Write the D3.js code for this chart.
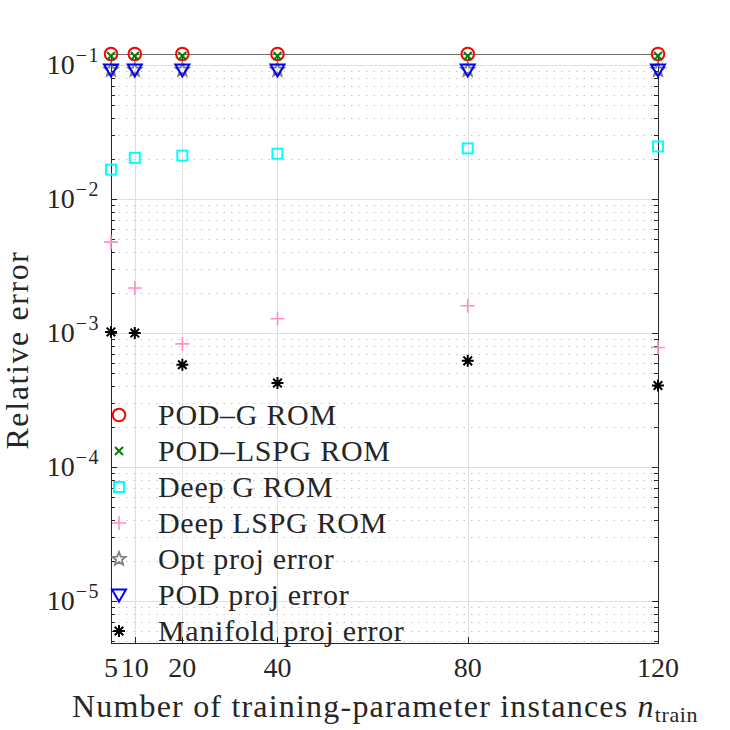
<!DOCTYPE html>
<html><head><meta charset="utf-8">
<script src="https://cdn.jsdelivr.net/npm/d3@7"></script>
<style>
body{margin:0;background:#fff}
svg{display:block}
text{font-family:"Liberation Serif","DejaVu Serif",serif;fill:#262626}
</style>
</head><body>
<script>
// ---- data ----
const nTrain = [5, 10, 20, 40, 80, 120];
const xTickLabels = ["5", "10", "20", "40", "80", "120"];
const yTickExponents = [-5, -4, -3, -2, -1];
const seriesNames = ["POD–G ROM", "POD–LSPG ROM", "Deep G ROM", "Deep LSPG ROM", "Opt proj error", "POD proj error", "Manifold proj error"];
const podG        = [0.121, 0.121, 0.121, 0.121, 0.121, 0.121];
const podLSPG     = [0.117, 0.117, 0.117, 0.117, 0.117, 0.117];
const deepG       = [0.0166, 0.0203, 0.0211, 0.0218, 0.0239, 0.0247];
const deepLSPG    = [0.00477, 0.00217, 0.00083, 0.00128, 0.0016, 0.00078];
const optProj     = [0.092, 0.092, 0.092, 0.092, 0.092, 0.092];
const podProj     = [0.092, 0.092, 0.092, 0.092, 0.092, 0.092];
const manifoldProj= [0.00102, 0.00100, 0.00058, 0.000423, 0.00062, 0.000406];

const W = 730, H = 730;
const L = 111, R = 658, T = 54, B = 643;
const x = d3.scaleLinear().domain([5, 120]).range([L, R]);
const y = d3.scaleLog().domain([4.86e-6, 0.121]).range([B, T]);

const svg = d3.select("body").append("svg").attr("width", W).attr("height", H);

// ---- grid ----
const minor = [];
for (let k = -6; k <= -1; k++) for (let j = 2; j <= 9; j++) {
  const v = j * Math.pow(10, k);
  if (v > y.domain()[0] && v < y.domain()[1]) minor.push(v);
}
const major = yTickExponents.map(e => Math.pow(10, e));
const g = svg.append("g");
g.selectAll(".mg").data(minor).join("line")
  .attr("x1", L).attr("x2", R).attr("y1", d => Math.round(y(d)) + 0.5).attr("y2", d => Math.round(y(d)) + 0.5)
  .attr("stroke", "#c4c4c4").attr("stroke-width", 1).attr("stroke-dasharray", "1.5,6");
g.selectAll(".yg").data(major).join("line")
  .attr("x1", L).attr("x2", R).attr("y1", d => Math.round(y(d)) + 0.5).attr("y2", d => Math.round(y(d)) + 0.5)
  .attr("stroke", "#dedede").attr("stroke-width", 1);
g.selectAll(".xg").data(nTrain).join("line")
  .attr("x1", d => Math.round(x(d)) + 0.5).attr("x2", d => Math.round(x(d)) + 0.5).attr("y1", T).attr("y2", B)
  .attr("stroke", "#dedede").attr("stroke-width", 1);

// ---- axes box & ticks ----
const ax = svg.append("g").attr("stroke", "#262626").attr("stroke-width", 1);
ax.append("line").attr("x1", L + 0.5).attr("x2", L + 0.5).attr("y1", T).attr("y2", B + 0.5);
ax.append("line").attr("x1", R + 0.5).attr("x2", R + 0.5).attr("y1", T).attr("y2", B + 0.5);
ax.append("line").attr("x1", L).attr("x2", R + 1).attr("y1", B + 0.5).attr("y2", B + 0.5);
ax.append("line").attr("x1", L).attr("x2", R + 1).attr("y1", T + 0.5).attr("y2", T + 0.5).attr("stroke", "#707070");
minor.forEach(v => {
  const yy = Math.round(y(v)) + 0.5;
  ax.append("line").attr("x1", L).attr("x2", L + 4).attr("y1", yy).attr("y2", yy);
  ax.append("line").attr("x1", R - 4).attr("x2", R).attr("y1", yy).attr("y2", yy);
});
major.forEach(v => {
  const yy = Math.round(y(v)) + 0.5;
  ax.append("line").attr("x1", L).attr("x2", L + 6).attr("y1", yy).attr("y2", yy);
  ax.append("line").attr("x1", R - 6).attr("x2", R).attr("y1", yy).attr("y2", yy);
});
nTrain.forEach(v => {
  const xx = Math.round(x(v)) + 0.5;
  ax.append("line").attr("x1", xx).attr("x2", xx).attr("y1", B).attr("y2", B - 6);
  ax.append("line").attr("x1", xx).attr("x2", xx).attr("y1", T).attr("y2", T + 6);
});

// ---- tick labels ----
yTickExponents.forEach(e => {
  const t = svg.append("text").attr("x", 100).attr("y", y(Math.pow(10, e)) + 9)
    .attr("text-anchor", "end").attr("font-size", 28);
  t.append("tspan").text("10");
  t.append("tspan").attr("dy", -12).attr("dx", 1).attr("font-size", 20).attr("letter-spacing", 1.5).text("−" + Math.abs(e));
});
nTrain.forEach((v, i) => {
  svg.append("text").attr("x", x(v)).attr("y", 677).attr("text-anchor", "middle")
    .attr("font-size", 28).text(xTickLabels[i]);
});

// ---- axis labels ----
const xl = svg.append("text").attr("x", 385).attr("y", 717).attr("text-anchor", "middle").attr("font-size", 32).attr("letter-spacing", 1.2);
xl.append("tspan").text("Number of training-parameter instances ");
xl.append("tspan").attr("font-style", "italic").text("n");
xl.append("tspan").attr("font-size", 22).attr("dy", 5).attr("letter-spacing", 0.6).text("train");
svg.append("text").attr("transform", `translate(28,350) rotate(-90)`)
  .attr("text-anchor", "middle").attr("font-size", 32).attr("letter-spacing", 1.6).text("Relative error");

// ---- markers ----
function drawMarker(sel, type, cx, cy) {
  const s = sel.append("g").attr("transform", `translate(${cx},${cy})`).attr("fill", "none");
  if (type === "o") s.append("circle").attr("r", 6.3).attr("stroke", "#ff0000").attr("stroke-width", 2);
  if (type === "x") s.append("path").attr("d", "M-4,-4L4,4M-4,4L4,-4").attr("stroke", "#008000").attr("stroke-width", 2);
  if (type === "s") s.append("rect").attr("x", -5).attr("y", -5).attr("width", 10).attr("height", 10).attr("stroke", "#00ffff").attr("stroke-width", 2);
  if (type === "+") s.append("path").attr("d", "M-7,0L7,0M0,-7L0,7").attr("stroke", "#ff8ec8").attr("stroke-width", 1.6);
  if (type === "p") {
    const pts = [];
    for (let i = 0; i < 10; i++) {
      const a = -Math.PI / 2 + i * Math.PI / 5, r = i % 2 ? 3 : 7;
      pts.push([r * Math.cos(a), r * Math.sin(a)]);
    }
    s.append("path").attr("d", "M" + pts.join("L") + "Z").attr("stroke", "#808080").attr("stroke-width", 1.8);
  }
  if (type === "v") s.append("path").attr("d", "M-7,-5.5L7,-5.5L0,6.5Z").attr("stroke", "#0000ff").attr("stroke-width", 2);
  if (type === "*") s.append("path").attr("d", "M-6,0L6,0M0,-6L0,6M-4.3,-4.3L4.3,4.3M-4.3,4.3L4.3,-4.3").attr("stroke", "#000").attr("stroke-width", 2);
}
const series = [
  {vals: podG, m: "o"}, {vals: podLSPG, m: "x"}, {vals: deepG, m: "s"}, {vals: deepLSPG, m: "+"},
  {vals: optProj, m: "p"}, {vals: podProj, m: "v"}, {vals: manifoldProj, m: "*"}
];
const mk = svg.append("g");
series.forEach(sr => sr.vals.forEach((v, i) => drawMarker(mk, sr.m, x(nTrain[i]), y(v))));

// ---- legend ----
const lg = svg.append("g");
series.forEach((sr, i) => {
  const cy = 415 + i * 36;
  drawMarker(lg, sr.m, 119, cy);
  lg.append("text").attr("x", 158).attr("y", cy + 10).attr("font-size", 30)
    .attr("letter-spacing", 0.7).text(seriesNames[i]);
});
</script>
</body></html>
